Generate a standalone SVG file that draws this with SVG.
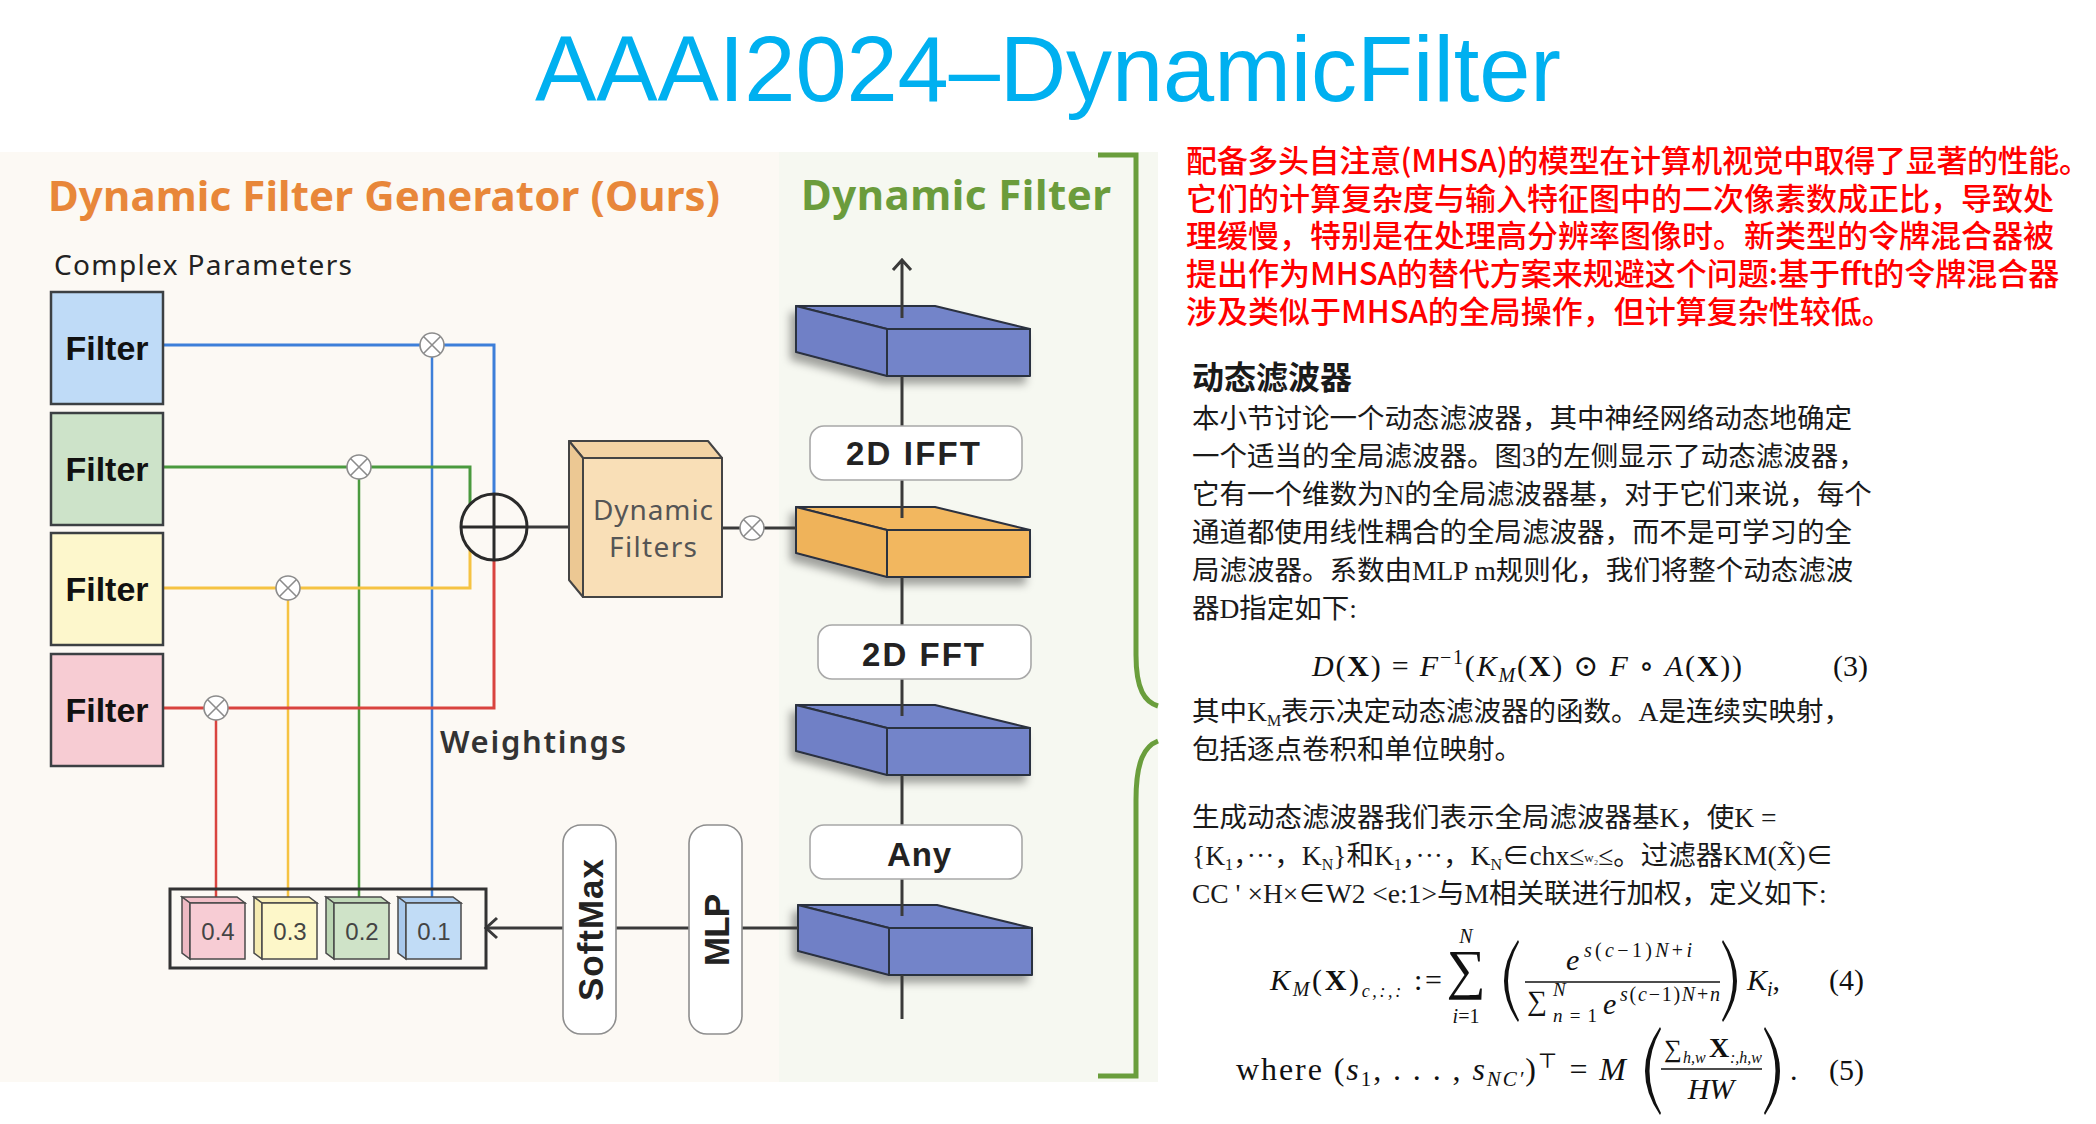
<svg xmlns="http://www.w3.org/2000/svg" xmlns:xlink="http://www.w3.org/1999/xlink" width="2096" height="1124" viewBox="0 0 2096 1124">
<style>
.bg{fill:#ffffff}
.ttl{font-family:'Liberation Sans',Arial,sans-serif;font-size:92px;fill:#00b0f0}
.hd{font-family:'Noto Sans','Open Sans',sans-serif;font-weight:bold;font-size:42px}
.lbl{font-family:'Noto Sans','Open Sans',sans-serif}
.filt{fill-opacity:1;stroke:#3c4043;stroke-width:2.5}
.ftxt{font-family:'Liberation Sans',Arial,sans-serif;font-weight:bold;font-size:34px;fill:#111;text-anchor:middle}
.wire{fill:none;stroke-width:3}
.mulc{fill:#ffffff;stroke:#8c8c8c;stroke-width:1.6}
.mulx{stroke:#8c8c8c;stroke-width:1.6}
.pill{fill:#ffffff;stroke:#8e8e8e;stroke-width:1.6}
.ptxt{font-family:'Liberation Sans',Arial,sans-serif;font-weight:bold;font-size:35px;fill:#222;text-anchor:middle}
.tag{fill:#ffffff;stroke:#a8a8a8;stroke-width:1.6}
.tagt{font-family:'Liberation Sans',Arial,sans-serif;font-weight:bold;font-size:33px;fill:#222;text-anchor:middle}
.cube{stroke:#4a4a4a;stroke-width:1.5}
.ctxt{font-family:'Liberation Sans',Arial,sans-serif;font-size:24px;fill:#444;text-anchor:middle}
.slab{stroke:#2c3040;stroke-width:2;stroke-linejoin:round}
.red{font-family:'Noto Sans CJK SC',sans-serif;font-size:31px;font-weight:500;fill:#ff0000}
.p{font-family:'Liberation Serif','Noto Sans CJK SC',serif;font-size:27.5px;fill:#1a1a1a}
.m{font-family:'Liberation Serif','DejaVu Serif',serif;fill:#111}
.it{font-style:italic}
.bd{font-weight:bold}
</style>
<defs>
<filter id="sh" x="-30%" y="-30%" width="160%" height="180%">
<feDropShadow dx="-5" dy="7" stdDeviation="4" flood-color="#000" flood-opacity="0.35"/>
</filter>
<g id="mul">
<circle r="12" class="mulc"/>
<path d="M-8.5,-8.5 L8.5,8.5 M-8.5,8.5 L8.5,-8.5" class="mulx"/>
</g>
<g id="slabB">
<polygon class="slab" fill="#7384c9" points="0,0 139,0 234,23 91,23"/>
<polygon class="slab" fill="#6f80c6" points="0,0 91,23 91,70 0,46"/>
<rect class="slab" fill="#7384c9" x="91" y="23" width="143" height="47"/>
</g>
<g id="slabO">
<polygon class="slab" fill="#f2b75e" points="0,0 139,0 234,23 91,23"/>
<polygon class="slab" fill="#efb35a" points="0,0 91,23 91,70 0,46"/>
<rect class="slab" fill="#f2b75e" x="91" y="23" width="143" height="47"/>
</g>
</defs>

<rect class="bg" x="0" y="0" width="2096" height="1124"/>
<text class="ttl" x="1048" y="101" text-anchor="middle" textLength="1026">AAAI2024–DynamicFilter</text>

<!-- panels -->
<rect x="0" y="152" width="779" height="930" fill="#fcf9f4"/>
<rect x="779" y="152" width="379" height="930" fill="#f6f8f1"/>

<text class="hd" x="48" y="211" fill="#e8873a" textLength="672">Dynamic Filter Generator (Ours)</text>
<text class="hd" x="801" y="210" fill="#6b9c3c" textLength="310">Dynamic Filter</text>
<text class="lbl" x="54" y="275" font-size="28" fill="#222" textLength="298">Complex Parameters</text>
<text class="lbl" x="440" y="753" font-size="31" font-weight="600" fill="#333" textLength="186">Weightings</text>

<!-- slabs -->
<g id="slab1"><use xlink:href="#slabB" x="796" y="306" filter="url(#sh)"/></g>
<g id="slab2"><use xlink:href="#slabO" x="796" y="507" filter="url(#sh)"/></g>
<g id="slab3"><use xlink:href="#slabB" x="796" y="705" filter="url(#sh)"/></g>
<g id="slab4"><use xlink:href="#slabB" x="798" y="905" filter="url(#sh)"/></g>

<!-- connectors -->
<g id="connectors">
<g stroke="#3d7fd9" class="wire">
<path d="M163,345 H494 V494"/>
<path d="M432,345 V897" stroke-width="2.5"/>
</g>
<g stroke="#4a9a3e" class="wire">
<path d="M163,467 H470 V505"/>
<path d="M359,467 V897" stroke-width="2.5"/>
</g>
<g stroke="#f5c342" class="wire">
<path d="M163,588 H470 V550"/>
<path d="M288,588 V897" stroke-width="2.5"/>
</g>
<g stroke="#d9443f" class="wire">
<path d="M163,708 H494 V560"/>
<path d="M216,708 V897" stroke-width="2.5"/>
</g>
<g stroke="#3a3a3a" stroke-width="3" fill="none">
<path d="M527,527 H576"/>
<path d="M722,528 H796"/>
<path d="M486,928 H563 M616,928 H689 M742,928 H798"/>
<path d="M497,918 L486,928 L497,938"/>
<path d="M902,318 V261 M893,270 L902,260 L911,270"/>
<path d="M902,376 V426 M902,480 V518 M902,577 V625 M902,679 V716 M902,775 V825 M902,879 V916 M902,975 V1019"/>
</g>
<path d="M1098,155 H1136 V655 C1136,690 1145,702 1158,706 M1158,741 C1145,746 1136,760 1136,800 V1076 H1098" fill="none" stroke="#6a9e3c" stroke-width="5"/>
</g>

<!-- filters -->
<g id="filter1"><rect class="filt" x="51" y="292" width="112" height="112" fill="#bfdbf7"/><text class="ftxt" x="107" y="360">Filter</text></g>
<g id="filter2"><rect class="filt" x="51" y="413" width="112" height="112" fill="#cde3c9"/><text class="ftxt" x="107" y="481">Filter</text></g>
<g id="filter3"><rect class="filt" x="51" y="533" width="112" height="112" fill="#fdf7cc"/><text class="ftxt" x="107" y="601">Filter</text></g>
<g id="filter4"><rect class="filt" x="51" y="654" width="112" height="112" fill="#f7ccd3"/><text class="ftxt" x="107" y="722">Filter</text></g>

<!-- multipliers -->
<g id="mulBlue"><use xlink:href="#mul" x="432" y="345"/></g>
<g id="mulGreen"><use xlink:href="#mul" x="359" y="467"/></g>
<g id="mulYellow"><use xlink:href="#mul" x="288" y="588"/></g>
<g id="mulRed"><use xlink:href="#mul" x="216" y="708"/></g>
<g id="mulOut"><use xlink:href="#mul" x="752" y="528"/></g>

<!-- sum -->
<g id="sum">
<circle cx="494" cy="527" r="33" fill="none" stroke="#2a2a2a" stroke-width="3"/>
<path d="M461,527 H527 M494,494 V560" stroke="#2a2a2a" stroke-width="3"/>
</g>

<!-- dynamic filters box -->
<g id="dynFilters" stroke="#444" stroke-width="2" stroke-linejoin="round">
<polygon points="569,441 708,441 722,458 583,458" fill="#f3d3a4"/>
<polygon points="569,441 583,458 583,597 569,580" fill="#ecc893"/>
<rect x="583" y="458" width="139" height="139" fill="#f9dfb7"/>
<text class="lbl" x="653" y="520" font-size="28" fill="#555" stroke="none" text-anchor="middle" textLength="120">Dynamic</text>
<text class="lbl" x="653" y="557" font-size="28" fill="#555" stroke="none" text-anchor="middle" textLength="88">Filters</text>
</g>

<!-- weights -->
<g id="weights">
<rect x="170" y="889" width="316" height="79" fill="none" stroke="#333" stroke-width="3"/>
<g class="cube">
<polygon points="182,897 237,897 245,903 190,903" fill="#f2bfc8"/><polygon points="182,897 190,903 190,959 182,953" fill="#eebac3"/><rect x="190" y="903" width="55" height="56" fill="#f7ccd4"/>
<polygon points="254,897 309,897 317,903 262,903" fill="#f8efb8"/><polygon points="254,897 262,903 262,959 254,953" fill="#f5ebb2"/><rect x="262" y="903" width="55" height="56" fill="#fdf7c9"/>
<polygon points="326,897 381,897 389,903 334,903" fill="#c0d9b8"/><polygon points="326,897 334,903 334,959 326,953" fill="#bbd5b3"/><rect x="334" y="903" width="55" height="56" fill="#cfe3c8"/>
<polygon points="398,897 453,897 461,903 406,903" fill="#aecdef"/><polygon points="398,897 406,903 406,959 398,953" fill="#a9c9ec"/><rect x="406" y="903" width="55" height="56" fill="#c1dcf6"/>
</g>
<text class="ctxt" x="218" y="940">0.4</text>
<text class="ctxt" x="290" y="940">0.3</text>
<text class="ctxt" x="362" y="940">0.2</text>
<text class="ctxt" x="434" y="940">0.1</text>
</g>

<g id="softmax"><rect class="pill" x="563" y="825" width="53" height="209" rx="18"/><text class="ptxt" transform="translate(590,930) rotate(-90)" x="0" y="12.5" textLength="142">SoftMax</text></g>
<g id="mlp"><rect class="pill" x="689" y="825" width="53" height="209" rx="18"/><text class="ptxt" transform="translate(716,930) rotate(-90)" x="0" y="12.5" textLength="72">MLP</text></g>

<g id="ifft"><rect class="tag" x="810" y="426" width="212" height="54" rx="14"/><text class="tagt" x="913" y="465" textLength="134">2D IFFT</text></g>
<g id="fft"><rect class="tag" x="818" y="625" width="213" height="54" rx="14"/><text class="tagt" x="923" y="666" textLength="122">2D FFT</text></g>
<g id="any"><rect class="tag" x="810" y="825" width="212" height="54" rx="14"/><text class="tagt" x="919" y="866" textLength="64">Any</text></g>

<!-- right text -->
<g id="redText" class="red">
<text x="1186" y="172" textLength="904">配备多头自注意(MHSA)的模型在计算机视觉中取得了显著的性能。</text>
<text x="1186" y="210">它们的计算复杂度与输入特征图中的二次像素数成正比，导致处</text>
<text x="1186" y="247">理缓慢，特别是在处理高分辨率图像时。新类型的令牌混合器被</text>
<text x="1186" y="285">提出作为MHSA的替代方案来规避这个问题:基于fft的令牌混合器</text>
<text x="1186" y="323">涉及类似于MHSA的全局操作，但计算复杂性较低。</text>
</g>

<g id="paper" class="p">
<text x="1192" y="389" font-family="'Noto Sans CJK SC',sans-serif" font-weight="bold" font-size="32">动态滤波器</text>
<text x="1192" y="428">本小节讨论一个动态滤波器，其中神经网络动态地确定</text>
<text x="1192" y="466">一个适当的全局滤波器。图3的左侧显示了动态滤波器，</text>
<text x="1192" y="504">它有一个维数为N的全局滤波器基，对于它们来说，每个</text>
<text x="1192" y="542">通道都使用线性耦合的全局滤波器，而不是可学习的全</text>
<text x="1192" y="580">局滤波器。系数由MLP m规则化，我们将整个动态滤波</text>
<text x="1192" y="618">器D指定如下:</text>
<text x="1192" y="721">其中K<tspan font-size="16" dy="5">M</tspan><tspan dy="-5">表示决定动态滤波器的函数。A是连续实映射，</tspan></text>
<text x="1192" y="759">包括逐点卷积和单位映射。</text>
<text x="1192" y="827">生成动态滤波器我们表示全局滤波器基K，使K =</text>
<text x="1192" y="865">{K<tspan font-size="16" dy="5">1</tspan><tspan dy="-5">，···，K</tspan><tspan font-size="16" dy="5">N</tspan><tspan dy="-5">}和K</tspan><tspan font-size="16" dy="5">1</tspan><tspan dy="-5">，···，K</tspan><tspan font-size="16" dy="5">N</tspan><tspan dy="-5">∈chx≤</tspan><tspan font-size="13" dy="-3">w₂</tspan><tspan dy="3">≤。过滤器KM(X̃)∈</tspan></text>
<text x="1192" y="903">CC ' ×H×∈W2 &lt;e:1&gt;与M相关联进行加权，定义如下:</text>
</g>

<g id="eq3" class="m" font-size="30">
<text x="1312" y="676" textLength="430"><tspan class="it">D</tspan>(<tspan class="bd">X</tspan>) = <tspan class="it">F</tspan><tspan font-size="20" dy="-12">−1</tspan><tspan dy="12">(</tspan><tspan class="it">K</tspan><tspan class="it" font-size="20" dy="6">M</tspan><tspan dy="-6">(</tspan><tspan class="bd">X</tspan>) ⊙ <tspan class="it">F</tspan> ∘ <tspan class="it">A</tspan>(<tspan class="bd">X</tspan>))</text>
<text x="1833" y="676">(3)</text>
</g>

<g id="eq4" class="m">
<text x="1270" y="990" font-size="30" textLength="172"><tspan class="it">K</tspan><tspan class="it" font-size="20" dy="6">M</tspan><tspan dy="-6">(</tspan><tspan class="bd">X</tspan>)<tspan class="it" font-size="18" dy="7">c,:,:</tspan><tspan dy="-7"> :=</tspan></text>
<text x="1466" y="988" font-size="55" text-anchor="middle">∑</text>
<text x="1466" y="943" font-size="20" text-anchor="middle" class="it">N</text>
<text x="1466" y="1023" font-size="20" text-anchor="middle"><tspan class="it">i</tspan>=1</text>
<path d="M1518,940 Q1490,981 1518,1022 L1519,1020 Q1497,981 1519,942 Z" fill="#111"/>
<path d="M1723,940 Q1751,981 1723,1022 L1722,1020 Q1744,981 1722,942 Z" fill="#111"/>
<text x="1566" y="970" font-size="30" class="it">e</text>
<text x="1584" y="957" font-size="20" textLength="108"><tspan class="it">s</tspan>(<tspan class="it">c</tspan>−1)<tspan class="it">N</tspan>+<tspan class="it">i</tspan></text>
<line x1="1525" y1="982" x2="1720" y2="982" stroke="#111" stroke-width="1.6"/>
<text x="1527" y="1010" font-size="28">∑</text>
<text x="1553" y="996" font-size="19" class="it">N</text>
<text x="1553" y="1022" font-size="19" textLength="44"><tspan class="it">n</tspan>=1</text>
<text x="1603" y="1014" font-size="30" class="it">e</text>
<text x="1620" y="1001" font-size="20" textLength="100"><tspan class="it">s</tspan>(<tspan class="it">c</tspan>−1)<tspan class="it">N</tspan>+<tspan class="it">n</tspan></text>
<text x="1747" y="990" font-size="30"><tspan class="it">K</tspan><tspan class="it" font-size="20" dy="6">i</tspan><tspan dy="-6">,</tspan></text>
<text x="1829" y="990" font-size="30">(4)</text>
</g>

<g id="eq5" class="m">
<text x="1236" y="1080" font-size="32" textLength="390">where (<tspan class="it">s</tspan><tspan font-size="21" dy="6">1</tspan><tspan dy="-6">, . . . , </tspan><tspan class="it">s</tspan><tspan class="it" font-size="21" dy="6">NC′</tspan><tspan dy="-6">)</tspan><tspan font-size="21" dy="-12">⊤</tspan><tspan dy="12"> = </tspan><tspan class="it">M</tspan></text>
<path d="M1660,1027 Q1630,1071 1660,1115 L1661,1113 Q1638,1071 1661,1029 Z" fill="#111"/>
<text x="1664" y="1057" font-size="25">∑</text>
<text x="1683" y="1063" font-size="16" class="it">h,w</text>
<text x="1709" y="1057" font-size="28" class="bd">X</text>
<text x="1730" y="1063" font-size="16" class="it">:,h,w</text>
<line x1="1661" y1="1069" x2="1762" y2="1069" stroke="#111" stroke-width="1.6"/>
<text x="1711" y="1099" font-size="30" class="it" text-anchor="middle">HW</text>
<path d="M1765,1027 Q1795,1071 1765,1115 L1764,1113 Q1787,1071 1764,1029 Z" fill="#111"/>
<text x="1790" y="1080" font-size="30">.</text>
<text x="1829" y="1080" font-size="30">(5)</text>
</g>
</svg>
